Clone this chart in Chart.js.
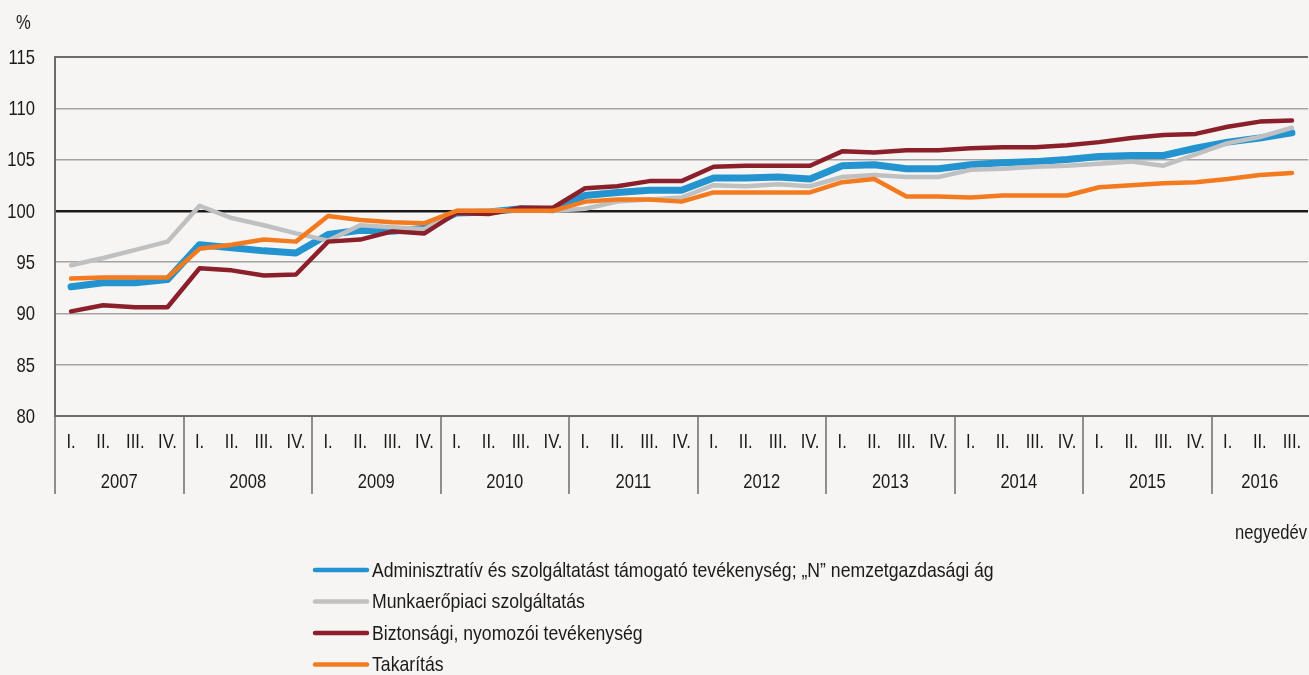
<!DOCTYPE html>
<html>
<head>
<meta charset="utf-8">
<script src="https://cdn.jsdelivr.net/npm/chart.js@4.4.1/dist/chart.umd.min.js"></script>
<style>
    html, body { margin: 0; padding: 0; background: #f6f5f3; }
    #wrap { position: relative; width: 1309px; height: 675px; }
</style>
</head>
<body>
<div id="wrap"><canvas id="chart" width="1309" height="675"></canvas></div>
<script>
// Negyedéves adatok, 2007 I. - 2016 III.
const years = ['2007', '2008', '2009', '2010', '2011', '2012', '2013', '2014', '2015', '2016'];
const quarterNames = ['I.', 'II.', 'III.', 'IV.'];
const quarterLabels = [];
years.forEach(y => quarterNames.forEach(q => quarterLabels.push(q)));
quarterLabels.splice(39); // 2016 csak III. negyedévig

const yTicks = [80, 85, 90, 95, 100, 105, 110, 115];

const adminisztrativ = [
    92.6, 93.0, 93.0, 93.3, 96.7, 96.4, 96.1, 95.9,
    97.7, 98.1, 98.0, 98.3, 99.8, 99.9, 100.2, 100.1,
    101.5, 101.8, 102.0, 102.0, 103.2, 103.2, 103.3, 103.1,
    104.4, 104.5, 104.1, 104.1, 104.5, 104.7, 104.8, 105.0,
    105.3, 105.4, 105.4, 106.1, 106.7, 107.1, 107.6
];
const munkaeropiaci = [
    94.7, 95.4, 96.2, 97.0, 100.5, 99.3, 98.6, 97.8,
    97.1, 98.6, 98.4, 98.2, 100.0, 100.0, 100.1, 100.0,
    100.2, 100.9, 101.1, 101.3, 102.5, 102.4, 102.6, 102.4,
    103.3, 103.5, 103.3, 103.3, 104.0, 104.1, 104.3, 104.4,
    104.6, 104.8, 104.4, 105.5, 106.6, 107.2, 108.1
];
const biztonsagi = [
    90.2, 90.8, 90.6, 90.6, 94.4, 94.2, 93.7, 93.8,
    97.0, 97.2, 98.0, 97.8, 99.8, 99.7, 100.3, 100.3,
    102.2, 102.4, 102.9, 102.9, 104.3, 104.4, 104.4, 104.4,
    105.8, 105.7, 105.9, 105.9, 106.1, 106.2, 106.2, 106.4,
    106.7, 107.1, 107.4, 107.5, 108.2, 108.7, 108.8
];
const takaritas = [
    93.4, 93.5, 93.5, 93.5, 96.3, 96.7, 97.2, 97.0,
    99.5, 99.1, 98.9, 98.8, 100.0, 100.0, 100.0, 100.0,
    100.9, 101.1, 101.1, 100.9, 101.8, 101.8, 101.8, 101.8,
    102.8, 103.1, 101.4, 101.4, 101.3, 101.5, 101.5, 101.5,
    102.3, 102.5, 102.7, 102.8, 103.1, 103.5, 103.7
];

const FONT = '"Liberation Sans", Arial, sans-serif';
const TEXT = '#1a1a1a';

// az eredeti keskeny betűt vízszintes zsugorítással utánozza
function narrowText(ctx, text, x, y, align, size, squeeze) {
    ctx.save();
    ctx.font = size + 'px ' + FONT;
    ctx.fillStyle = TEXT;
    ctx.textAlign = align;
    ctx.textBaseline = 'middle';
    ctx.translate(x, y);
    ctx.scale(squeeze, 1);
    ctx.fillText(text, 0, 0);
    ctx.restore();
}

// tengelyfeliratok, évek, elválasztók, legenda
const extrasPlugin = {
    id: 'extras',
    afterDraw(chart) {
        const ctx = chart.ctx;
        const x = chart.scales.x;
        const y = chart.scales.y;
        const area = chart.chartArea;
        const AX = 21, SQ = 0.79;

        yTicks.forEach(v => narrowText(ctx, String(v), 35, y.getPixelForValue(v) + 1, 'right', AX, SQ));
        quarterLabels.forEach((q, i) => narrowText(ctx, q, x.getPixelForValue(i), 442, 'center', AX, SQ));

        ctx.save();
        ctx.strokeStyle = '#6b6b6b';
        ctx.lineWidth = 1.5;
        const half = (x.getPixelForValue(1) - x.getPixelForValue(0)) / 2;
        years.forEach((yr, i) => {
            const first = i * 4;
            const last = Math.min(first + 3, quarterLabels.length - 1);
            const left = x.getPixelForValue(first) - half;
            const right = x.getPixelForValue(last) + half;
            ctx.beginPath();
            ctx.moveTo(Math.round(left), area.bottom);
            ctx.lineTo(Math.round(left), area.bottom + 78);
            ctx.stroke();
            narrowText(ctx, yr, (left + right) / 2, 482, 'center', AX, SQ);
        });
        ctx.restore();

        narrowText(ctx, '%', 16, 23, 'left', AX, SQ);
        narrowText(ctx, 'negyedév', 1307, 533, 'right', AX, SQ);

        // legenda
        chart.data.datasets.forEach((ds, i) => {
            const ly = 570 + i * 31.5;
            ctx.save();
            ctx.strokeStyle = ds.borderColor;
            ctx.lineWidth = 4.5;
            ctx.lineCap = 'round';
            ctx.beginPath();
            ctx.moveTo(315, ly);
            ctx.lineTo(367, ly);
            ctx.stroke();
            ctx.restore();
            narrowText(ctx, ds.label, 372, ly + 1, 'left', 21, 0.84);
        });
    }
};

new Chart(document.getElementById('chart').getContext('2d'), {
    type: 'line',
    data: {
        labels: quarterLabels,
        datasets: [{
            label: 'Adminisztratív és szolgáltatást támogató tevékenység; „N” nemzetgazdasági ág',
            data: adminisztrativ,
            borderColor: '#2394cf',
            borderWidth: 7,
            order: 4
        }, {
            label: 'Munkaerőpiaci szolgáltatás',
            data: munkaeropiaci,
            borderColor: '#bfc0c2',
            borderWidth: 4.5,
            order: 3
        }, {
            label: 'Biztonsági, nyomozói tevékenység',
            data: biztonsagi,
            borderColor: '#8b1f2a',
            borderWidth: 4.5,
            order: 2
        }, {
            label: 'Takarítás',
            data: takaritas,
            borderColor: '#f47a20',
            borderWidth: 4.5,
            order: 1
        }]
    },
    options: {
        responsive: false,
        animation: false,
        events: [],
        layout: { padding: { top: 57, right: 1, left: 0, bottom: 0 } },
        elements: {
            point: { radius: 0 },
            line: { tension: 0, borderCapStyle: 'round', borderJoinStyle: 'round' }
        },
        plugins: {
            legend: { display: false },
            tooltip: { enabled: false }
        },
        scales: {
            x: {
                type: 'category',
                offset: true,
                grid: { display: false },
                border: { display: true, color: '#6b6b6b', width: 2 },
                ticks: { display: false },
                afterFit(scale) { scale.height = 675 - 416; }
            },
            y: {
                min: 80,
                max: 115,
                afterBuildTicks(scale) { scale.ticks = yTicks.map(v => ({ value: v })); },
                grid: {
                    color: ctx => ctx.tick && ctx.tick.value === 100 ? '#1a1a1a' : (ctx.tick && ctx.tick.value === 115 ? '#6b6b6b' : '#a3a3a3'),
                    lineWidth: ctx => ctx.tick && ctx.tick.value === 100 ? 2.5 : (ctx.tick && ctx.tick.value === 115 ? 2 : 1.5),
                    drawTicks: false
                },
                border: { display: true, color: '#6b6b6b', width: 2 },
                ticks: { display: false },
                afterFit(scale) { scale.width = 55; }
            }
        }
    },
    plugins: [extrasPlugin]
});
</script>
</body>
</html>
